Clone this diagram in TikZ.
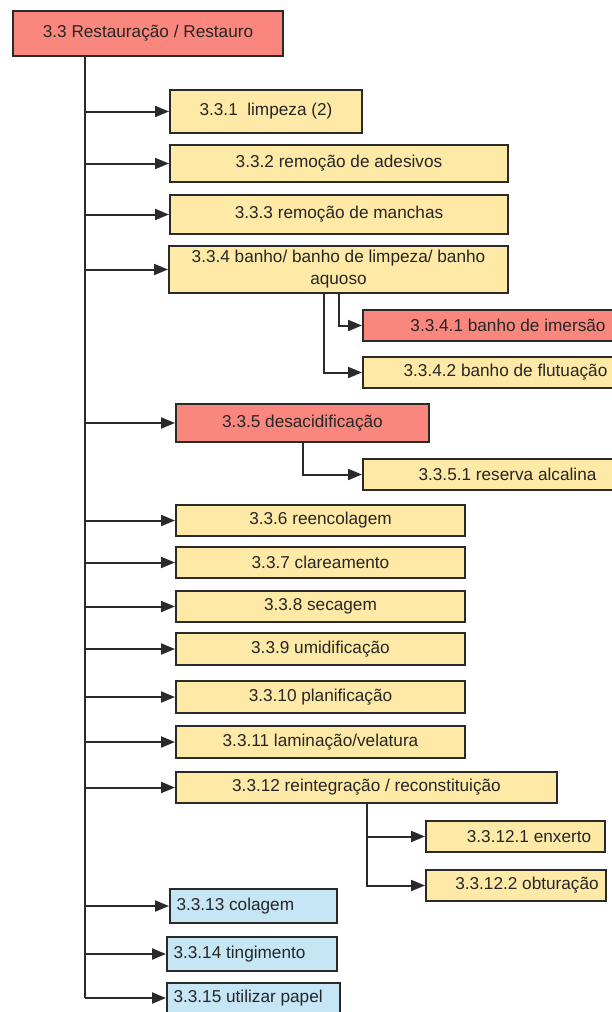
\documentclass[tikz,border=0pt]{standalone}
\usepackage{fontspec}
\setmainfont{Liberation Sans}
\usetikzlibrary{arrows.meta}
\definecolor{boxred}{HTML}{FA877D}
\definecolor{boxyel}{HTML}{FFE9A6}
\definecolor{boxblue}{HTML}{C6E5F5}
\definecolor{linec}{HTML}{2A2A2A}
\definecolor{textc}{HTML}{262626}
\tikzset{
  x=1pt, y=-1pt,
  basebox/.style={draw=linec, line width=2pt, inner sep=0pt, text=textc,
    font=\fontsize{17.2}{22}\selectfont, align=center},
  redbox/.style={basebox, fill=boxred},
  yelbox/.style={basebox, fill=boxyel},
  bluebox/.style={basebox, fill=boxblue},
  conn/.style={draw=linec, line width=2pt},
  arr/.style={conn, -{Triangle[length=14pt,width=11pt]}}
}
\newcommand\bx[7]{\node[#6, minimum width={(#4-#2)*1pt}, minimum height={(#5-#3)*1pt}] (#1) at ({(#2+#4)/2},{(#3+#5)/2}) {#7};}
\newcommand\lbx[7]{\node[#6, minimum width={(#4-#2)*1pt}, minimum height={(#5-#3)*1pt},
  label={[anchor=west,xshift=4pt,text=textc,font=\fontsize{17.2}{22}\selectfont]west:#7}] (#1) at ({(#2+#4)/2},{(#3+#5)/2}) {};}
\begin{document}
\begin{tikzpicture}
\useasboundingbox (0,0) rectangle (612,1012);
\clip (0,0) rectangle (612,1012);
\fill[white] (0,0) rectangle (612,1012);
\bx{root}{13}{11}{283}{56}{redbox}{3.3 Restauração / Restauro}
\bx{n331}{170}{90}{362}{133}{yelbox}{3.3.1\ \ limpeza (2)}
\bx{n332}{170}{145}{508}{182}{yelbox}{3.3.2 remoção de adesivos}
\bx{n333}{170}{195}{508}{234}{yelbox}{3.3.3 remoção de manchas}
\bx{n334}{169}{246}{508}{293}{yelbox}{3.3.4 banho/ banho de limpeza/ banho\\aquoso}
\bx{n3341}{363}{310}{653}{341}{redbox}{3.3.4.1 banho de imersão}
\bx{n3342}{363}{357}{648}{388}{yelbox}{3.3.4.2 banho de flutuação}
\bx{n335}{176}{404}{429}{442}{redbox}{3.3.5 desacidificação}
\bx{n3351}{363}{459}{652}{490}{yelbox}{3.3.5.1 reserva alcalina}
\bx{n336}{176}{505}{465}{536}{yelbox}{3.3.6 reencolagem}
\bx{n337}{176}{547}{465}{578}{yelbox}{3.3.7 clareamento}
\bx{n338}{176}{591}{465}{622}{yelbox}{3.3.8 secagem}
\bx{n339}{176}{633}{465}{665}{yelbox}{3.3.9 umidificação}
\bx{n3310}{176}{681}{465}{713}{yelbox}{3.3.10 planificação}
\bx{n3311}{176}{726}{465}{758}{yelbox}{3.3.11 laminação/velatura}
\bx{n3312}{176}{772}{557}{803}{yelbox}{3.3.12 reintegração / reconstituição}
\bx{n33121}{426}{821}{605}{852}{yelbox}{\hspace*{27pt}3.3.12.1 enxerto}
\bx{n33122}{426}{870}{606}{901}{yelbox}{\hspace*{22pt}3.3.12.2 obturação}
\lbx{n3313}{170}{889}{337}{923}{bluebox}{3.3.13 colagem}
\lbx{n3314}{167}{937}{337}{971}{bluebox}{3.3.14 tingimento}
\lbx{n3315}{167}{983}{340}{1013}{bluebox}{3.3.15 utilizar papel}
% trunk
\coordinate (tr) at (85,998);
\draw[conn] (root.south -| tr) -- (tr);
\foreach \n in {n331,n332,n333,n334,n335,n336,n337,n338,n339,n3310,n3311,n3312,n3313,n3314,n3315}
  \draw[arr] (\n.west -| tr) -- (\n.west);
% sub-branches
\draw[arr] (n334.south) |- (n3341.west);
\draw[arr] ([xshift=-15pt]n334.south) |- (n3342.west);
\draw[arr] (n335.south) |- (n3351.west);
\draw[arr] (n3312.south) |- (n33121.west);
\draw[arr] (n3312.south) |- (n33122.west);
\end{tikzpicture}
\end{document}
